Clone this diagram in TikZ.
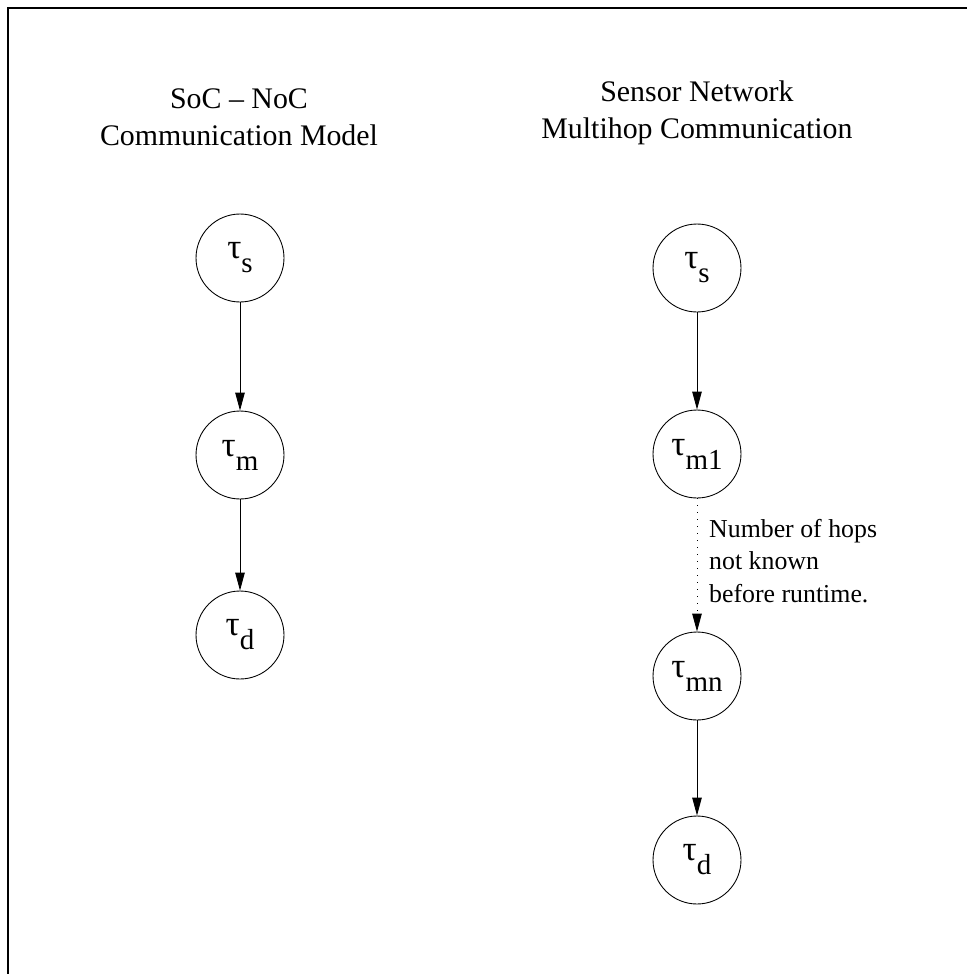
\documentclass[tikz,border=0pt]{standalone}
\usepackage{fontspec}
\setmainfont{Liberation Serif}
\usetikzlibrary{arrows.meta}

\begin{document}
\begin{tikzpicture}[x=0.02cm,y=-0.02cm,
    task/.style={draw,circle,minimum size=1.76cm,inner sep=0pt,line width=0.5pt},
    title/.style={align=center,font=\fontsize{17}{21}\selectfont},
    link/.style={line width=0.5pt,-{Triangle[length=0.36cm,width=0.19cm]}}]

\useasboundingbox (0,0) rectangle (967,974);

% ------------------------------------------------ frame
\draw[line width=1.15pt] (8,974) -- (8,8) -- (967,8);

% ------------------------------------------------ tau labels
\newcommand{\tsub}[1]{\fontsize{20}{20}\selectfont τ\raisebox{-8pt}{\fontsize{16.5}{16.5}\selectfont #1}}

% ------------------------------------------------ SoC - NoC
\node[title] (socTitle) at (239,117) {SoC – NoC\\Communication Model};

\node[task] (socS) at (240,258) {\tsub{s}};
\node[task] (socM) at (240,455) {\tsub{m}};
\node[task] (socD) at (240,635) {\tsub{d}};

\draw[link] (socS) -- (socM);
\draw[link] (socM) -- (socD);

% ------------------------------------------------ sensor network
\node[title] (snTitle) at (697,113) {Sensor Network\\Multihop Communication};

\node[task] (snS)  at (697,268) {\tsub{s}};
\node[task] (snM1) at (697,454) {\tsub{m1}};
\node[task] (snMn) at (697,676) {\tsub{mn}};
\node[task] (snD)  at (697,860) {\tsub{d}};

\draw[link] (snS) -- (snM1);
\draw[link,dash pattern=on 0.02cm off 0.12cm] (snM1) -- (snMn);
\draw[link] (snMn) -- (snD);

\node[anchor=west,align=left,font=\fontsize{14.7}{18.5}\selectfont] (hops) at (703,561)
    {Number of hops\\not known\\before runtime.};

\end{tikzpicture}
\end{document}
